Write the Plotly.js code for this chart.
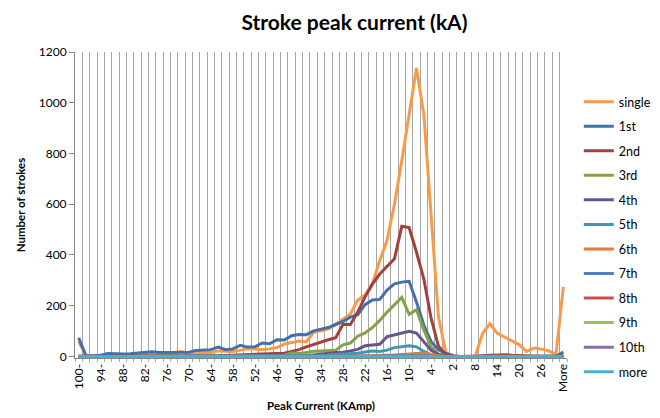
<!DOCTYPE html>
<html><head><meta charset="utf-8">
<script src="https://cdn.plot.ly/plotly-3.0.1.min.js"></script>
<style>html,body{margin:0;padding:0;background:#fff}</style>
</head><body><div id="chart" style="width:660px;height:418px"></div>
<script>
const categories = ["-100","-98","-96","-94","-92","-90","-88","-86","-84","-82","-80","-78","-76","-74","-72","-70","-68","-66","-64","-62","-60","-58","-56","-54","-52","-50","-48","-46","-44","-42","-40","-38","-36","-34","-32","-30","-28","-26","-24","-22","-20","-18","-16","-14","-12","-10","-8","-6","-4","-2","0","2","4","6","8","10","12","14","16","18","20","22","24","26","28","30","More"];
const tickCategories = ["-100","-94","-88","-82","-76","-70","-64","-58","-52","-46","-40","-34","-28","-22","-16","-10","-4","2","8","14","20","26","More"];
const tickLabels = ["100-","94-","88-","82-","76-","70-","64-","58-","52-","46-","40-","34-","28-","22-","16-","10-","4-","2","8","14","20","26","More"];
const seriesNames = ["single","1st","2nd","3rd","4th","5th","6th","7th","8th","9th","10th","more"];
const seriesColors = ["#F79A4A","#4170AA","#A33F3C","#85A24A","#6A5490","#3A9AB5","#E07D33","#4F81BD","#C9504D","#9BC256","#8A6BB0","#4BB0D0"];

const single = [59,3,2,2,3,3,4,4,5,9, 12,13,13,16,20,13,12,16,16,22, 22,20,25,30,29,27,30,35,49,54, 61,57,95,101,109,126,147,168,222,242, 287,378,458,600,770,946,1137,955,570,155, 15,3,0,0,0,91,130,91,76,61, 47,20,33,29,22,9,274];
const first = [74,3,3,5,12,10,10,11,13,16, 19,16,16,16,16,17,24,26,27,37, 27,30,44,37,38,53,50,66,65,82, 87,86,101,107,114,126,138,155,165,204, 223,225,262,286,293,296,215,124,59,26, 12,3,0,0,0,3,5,4,3,2, 2,1,1,1,1,1,17];
const second = [2,0,0,0,1,1,1,1,1,1, 1,1,2,2,2,2,2,3,3,3, 4,5,6,7,8,8,9,10,13,20, 27,38,48,58,66,74,127,126,175,235, 285,325,355,385,513,508,411,306,150,40, 8,1,0,0,0,2,4,6,7,5, 3,2,1,1,1,1,5];
const third = [1,0,0,0,0,0,0,0,0,0, 0,0,0,0,0,0,0,1,1,1, 1,1,1,2,2,2,2,3,5,14, 12,16,21,22,23,25,46,53,80,93, 114,142,175,205,233,166,184,105,38,9, 2,0,0,0,0,0,1,1,1,0, 0,0,0,0,0,0,1];
const fourth = [0,0,0,0,0,0,0,0,0,0, 0,0,0,0,0,0,0,0,0,0, 0,0,0,0,1,1,1,1,1,2, 2,3,7,10,13,16,17,22,28,42, 45,48,78,84,90,99,92,58,24,8, 2,0,0,0,0,0,0,0,0,0, 0,0,0,0,0,0,0];
const fifth = [0,0,0,0,0,0,0,0,0,0, 0,0,0,0,0,0,0,0,0,0, 0,0,0,0,0,0,1,1,1,1, 2,2,3,3,5,8,10,13,13,18, 22,20,25,35,39,42,38,20,6,2, 0,0,0,0,0,0,0,0,0,0, 0,0,0,0,0,0,0];
const sixth = [0,0,0,0,0,0,0,0,0,0, 0,0,0,0,0,0,0,0,0,0, 0,0,0,0,0,0,0,0,0,0, 0,0,1,1,1,1,2,2,2,3, 3,4,5,6,8,10,12,14,8,2, 0,0,0,0,0,0,0,0,0,0, 0,0,0,0,0,0,0];
const seventh = [0,0,0,0,0,0,0,0,0,0, 0,0,0,0,0,0,0,0,0,0, 0,0,0,0,0,0,0,0,0,0, 0,0,0,0,0,0,1,1,1,2, 2,2,3,3,4,4,4,3,1,0, 0,0,0,0,0,0,0,0,0,0, 0,0,0,0,0,0,0];
const eighth = [0,0,0,0,0,0,0,0,0,0, 0,0,0,0,0,0,0,0,0,0, 0,0,0,0,0,0,0,0,0,0, 0,0,0,0,0,0,0,0,0,0, 1,1,1,2,2,2,2,1,0,0, 0,0,0,0,0,0,0,0,0,0, 0,0,0,0,0,0,0];
const ninth = [0,0,0,0,0,0,0,0,0,0, 0,0,0,0,0,0,0,0,0,0, 0,0,0,0,0,0,0,0,0,0, 0,0,0,0,0,0,0,0,0,0, 0,0,1,1,1,1,1,1,0,0, 0,0,0,0,0,0,0,0,0,0, 0,0,0,0,0,0,0];
const tenth = [0,0,0,0,0,0,0,0,0,0, 0,0,0,0,0,0,0,0,0,0, 0,0,0,0,0,0,0,0,0,0, 0,0,0,0,0,0,0,0,0,0, 0,0,0,1,1,1,1,0,0,0, 0,0,0,0,0,0,0,0,0,0, 0,0,0,0,0,0,0];
const more = [0,0,0,0,0,0,0,0,0,0, 0,0,0,0,0,0,0,0,0,0, 0,0,0,0,0,0,0,0,0,0, 0,0,0,0,0,0,0,0,0,0, 0,0,0,0,0,0,0,0,0,0, 0,0,0,0,0,0,0,0,0,0, 0,0,0,0,0,0,0];

const seriesValues = [single, first, second, third, fourth, fifth, sixth, seventh, eighth, ninth, tenth, more];

// category positions on the axis (the library's linear scale, one slot per category)
const categoryPos = categories.map((c, i) => i);
const tickPos = tickCategories.map(c => categories.indexOf(c));

const traces = seriesNames.map((name, k) => ({
  type: 'scatter', mode: 'lines', name: name,
  x: categoryPos, y: seriesValues[k],
  line: {color: seriesColors[k], width: 3},
  legendgroup: 'g' + k, hoverinfo: 'skip'
}));

const gray = '#868686';
const layout = {
  width: 660, height: 418,
  margin: {l: 75, r: 93, t: 52, b: 60, autoexpand: false},
  paper_bgcolor: '#ffffff', plot_bgcolor: '#ffffff',
  font: {family: 'Lato, "Open Sans", sans-serif', color: '#000000', size: 12},
  title: {
    text: '<b>Stroke peak current (kA)</b>',
    font: {size: 21, color: '#000000'},
    xref: 'container', x: 0.537, xanchor: 'center',
    yref: 'container', y: 0.945, yanchor: 'middle'
  },
  xaxis: {
    type: 'linear', range: [-0.5, categories.length - 0.5],
    tickmode: 'array', tickvals: tickPos, ticktext: tickLabels,
    tickangle: -90, tickfont: {size: 12, color: '#000'},
    showgrid: false, zeroline: false,
    showline: true, linecolor: gray, linewidth: 1, ticks: '',
    minor: {
      tickmode: 'linear', tick0: 0.5, dtick: 1,
      showgrid: true, gridcolor: '#A6A6A6', gridwidth: 1,
      ticks: 'outside', ticklen: 3, tickcolor: '#A6A6A6'
    },
    title: {text: '<b>Peak Current (KAmp)</b>', font: {size: 11.5}, standoff: 10}
  },
  yaxis: {
    range: [-6, 1200], tick0: 0, dtick: 200,
    showgrid: false, zeroline: false,
    showline: true, linecolor: gray, linewidth: 1,
    ticks: 'outside', ticklen: 5, tickcolor: gray,
    tickfont: {size: 12, color: '#000'},
    title: {text: '<b>Number of strokes</b>', font: {size: 11.5}, standoff: 10}
  },
  legend: {
    x: 1.024, xanchor: 'left', y: 0.8856, yanchor: 'top',
    font: {size: 12.5, color: '#000'},
    traceorder: 'grouped', tracegroupgap: 5.3,
    bgcolor: 'rgba(0,0,0,0)', borderwidth: 0
  },
  showlegend: true
};

Plotly.newPlot('chart', traces, layout, {staticPlot: true, displayModeBar: false});
</script>
</body></html>
